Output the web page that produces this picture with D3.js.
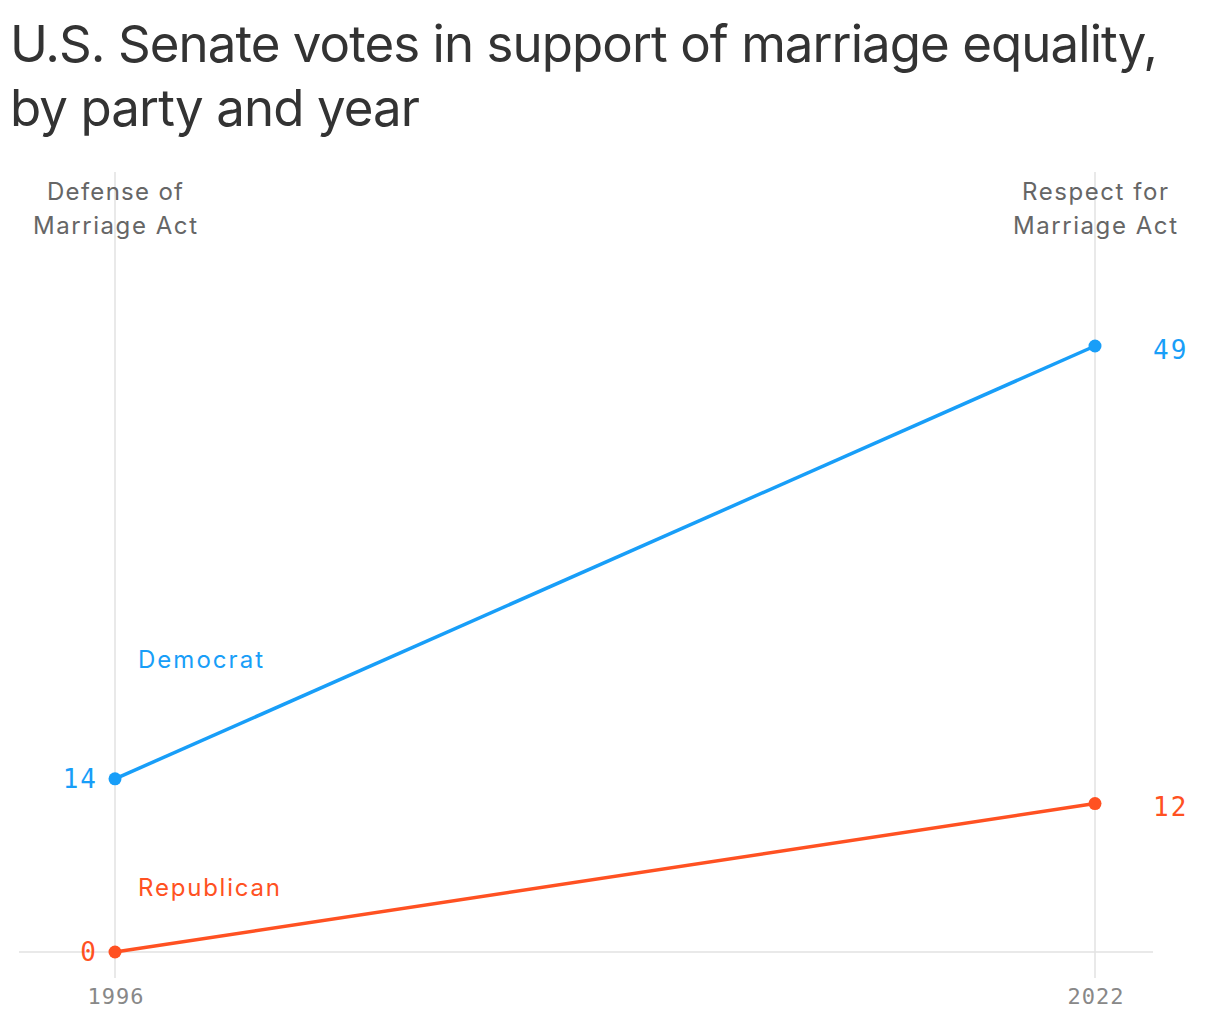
<!DOCTYPE html>
<html><head><meta charset="utf-8">
<script src="https://cdn.jsdelivr.net/npm/d3@7"></script>
<style>body{margin:0;background:#fff}svg{display:block}</style>
</head><body>
<svg id="chart" width="1220" height="1020"></svg>
<script>
const years = [1996, 2022];
const yearLabels = ["1996", "2022"];
const actLabels = [["Defense of", "Marriage Act"], ["Respect for", "Marriage Act"]];
const seriesNames = ["Democrat", "Republican"];
const democrat = [14, 49];
const republican = [0, 12];
const colors = ["#189ef8", "#ff5122"];

const svg = d3.select("#chart");
const sans = "Inter, 'Noto Sans', sans-serif";
const mono = "'DejaVu Sans Mono', 'Liberation Mono', monospace";

// adjust letter-spacing so text spans the target width
function fit(sel, target) {
  const node = sel.node();
  const w = node.getComputedTextLength();
  const n = node.textContent.length;
  const ls = (target - w) / Math.max(1, n - 1);
  sel.attr("letter-spacing", ls);
  return ls;
}

const t1 = svg.append("text").attr("x", 10).attr("y", 62).attr("font-family", sans)
  .attr("font-size", 51).attr("fill", "#333")
  .text("U.S. Senate votes in support of marriage equality,");
fit(t1, 1148);
const t2 = svg.append("text").attr("x", 10).attr("y", 126).attr("font-family", sans)
  .attr("font-size", 51).attr("fill", "#333")
  .text("by party and year");
fit(t2, 410);

const x = d3.scaleLinear().domain([1996, 2022]).range([115, 1095]);
const y = d3.scaleLinear().domain([0, 49]).range([952, 346]);

// vertical gridlines
svg.selectAll(".vg").data(years).join("line")
  .attr("x1", d => x(d)).attr("x2", d => x(d))
  .attr("y1", 172).attr("y2", 978)
  .attr("stroke", "#e2e2e2").attr("stroke-width", 1.5);

// baseline
svg.append("line").attr("x1", 19).attr("x2", 1153)
  .attr("y1", y(0)).attr("y2", y(0))
  .attr("stroke", "#e2e2e2").attr("stroke-width", 1.5);

// act labels (white halo behind text over gridline is not used in reference; gridline shows through)
const actWidths = [[136, 164], [146, 164]];
years.forEach((yr, i) => {
  actLabels[i].forEach((ln, j) => {
    const t = svg.append("text").attr("y", 200 + j * 34).attr("text-anchor", "middle")
      .attr("font-family", sans).attr("font-size", 24).attr("fill", "#666").text(ln);
    t.attr("x", x(yr));
    const ls = fit(t, actWidths[i][j]);
    t.attr("x", x(yr) + ls / 2);
  });
});

// x axis labels
const xAxis = d3.axisBottom(x).tickValues(years).tickFormat((d, i) => yearLabels[i]).tickSize(0).tickPadding(0);
const gx = svg.append("g").attr("transform", "translate(0,988)").call(xAxis);
gx.select(".domain").remove();
gx.selectAll("text").attr("font-family", mono).attr("font-size", 22).attr("fill", "#888")
  .attr("letter-spacing", 1).attr("dx", 0.5)
  .attr("dy", "0.71em").attr("y", 0);

const series = [democrat, republican];
const line = d3.line().x((d, i) => x(years[i])).y(d => y(d));

series.forEach((vals, s) => {
  svg.append("path").datum(vals).attr("d", line)
    .attr("fill", "none").attr("stroke", colors[s]).attr("stroke-width", 3.5);
  svg.selectAll(".dot" + s).data(vals).join("circle")
    .attr("cx", (d, i) => x(years[i])).attr("cy", d => y(d)).attr("r", 6.5)
    .attr("fill", colors[s]);
  // value labels
  svg.append("text").attr("x", x(years[0]) - 17).attr("y", y(vals[0]) + 9)
    .attr("text-anchor", "end").attr("font-family", mono).attr("font-size", 26)
    .attr("letter-spacing", 2)
    .attr("fill", colors[s]).text(vals[0]);
  svg.append("text").attr("x", x(years[1]) + 58).attr("y", y(vals[1]) + 12.5)
    .attr("text-anchor", "start").attr("font-family", mono).attr("font-size", 26)
    .attr("letter-spacing", 2)
    .attr("fill", colors[s]).text(vals[1]);
});

// series labels
const s1 = svg.append("text").attr("x", 138).attr("y", 668).attr("font-family", sans)
  .attr("font-size", 24).attr("fill", colors[0]).text(seriesNames[0]);
fit(s1, 125);
const s2 = svg.append("text").attr("x", 138).attr("y", 896).attr("font-family", sans)
  .attr("font-size", 24).attr("fill", colors[1]).text(seriesNames[1]);
fit(s2, 142);
</script>
</body></html>
